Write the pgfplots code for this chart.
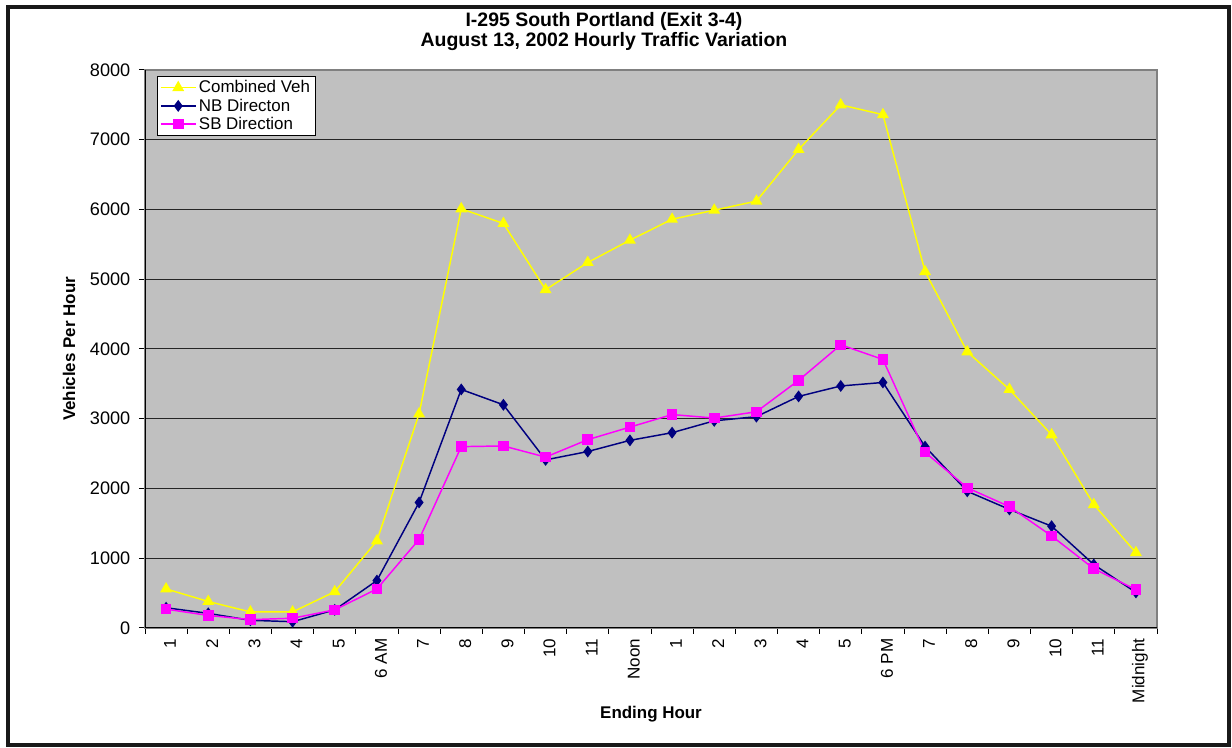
\documentclass[border=0pt]{standalone}
\usepackage{pgfplots}
\pgfplotsset{compat=1.18}
\usepackage{pgfplotstable}
\usepackage{fontspec}
\setmainfont{Liberation Sans}
\definecolor{silverbg}{HTML}{C0C0C0}
\definecolor{cyel}{HTML}{FFFF00}
\definecolor{cnb}{HTML}{000080}
\definecolor{csb}{HTML}{FF00FF}
\pgfplotstableread{
x comb nb sb
1 560 290 270
2 380 210 180
3 230 110 120
4 230 90 140
5 520 260 260
6 1250 680 560
7 3070 1800 1270
8 6010 3420 2600
9 5800 3200 2610
10 4850 2410 2450
11 5240 2530 2700
12 5560 2690 2880
13 5860 2800 3060
14 5990 2970 3010
15 6120 3030 3100
16 6860 3320 3550
17 7500 3470 4060
18 7360 3520 3850
19 5110 2600 2520
20 3960 1960 2010
21 3420 1700 1740
22 2770 1460 1320
23 1770 910 850
24 1080 510 550
}\data
\begin{document}
\begin{tikzpicture}
\useasboundingbox (0,0) rectangle (924pt,561pt);
\draw[line width=3pt,black!90] (5.625pt,1.875pt) rectangle (921.75pt,555.4pt);
\node[align=center,font=\fontsize{14.6}{15}\selectfont\bfseries] at (453pt,537.5pt)
  {I-295 South Portland (Exit 3-4)\\August 13, 2002 Hourly Traffic Variation};
\begin{axis}[
  at={(108.75pt,90pt)}, anchor=south west,
  scale only axis, width=759pt, height=418.5pt,
  xmin=0.5, xmax=24.5, ymin=0, ymax=8000,
  axis background/.style={fill=silverbg},
  axis line style={draw=black!50, line width=0.9pt},
  tick align=outside,
  xtick pos=bottom, ytick pos=left,
  ytick={0,1000,...,8000},
  ymajorgrids, major grid style={black!85, line width=0.75pt},
  major tick length=4.5pt, minor tick length=4.5pt,
  tick style={black, line width=0.75pt},
  xtick={1,...,24},
  xticklabels={1,2,3,4,5,6 AM,7,8,9,10,11,Noon,1,2,3,4,5,6 PM,7,8,9,10,11,Midnight},
  x tick style={draw=none},
  minor xtick={0.5,1.5,...,24.5},
  minor x tick style={draw=black, line width=0.75pt},
  xticklabel style={rotate=90, anchor=east, font=\fontsize{12.8}{15}\selectfont, yshift=-3pt},
  yticklabel style={font=\fontsize{13.6}{15}\selectfont, xshift=-3pt},
  /pgf/number format/assume math mode=true,
  /pgf/number format/1000 sep={},
  scaled y ticks=false,
  xlabel={Ending Hour}, ylabel={Vehicles Per Hour},
  xlabel style={font=\fontsize{12.7}{14}\selectfont\bfseries, at={(axis description cs:0.5,0)}, anchor=center, yshift=-64.5pt},
  ylabel style={font=\fontsize{12.7}{14}\selectfont\bfseries, at={(axis description cs:0,0.5)}, anchor=center, yshift=57pt},
  legend style={at={(0,1)}, anchor=north west, xshift=9pt, yshift=-4.5pt,
    draw=black, fill=white, line width=0.75pt, font=\fontsize{12.7}{14.5}\selectfont,
    inner xsep=2pt, inner ysep=1pt, row sep=-1pt},
  legend cell align=left,
  legend image code/.code={\draw[mark repeat=2,mark phase=2] plot coordinates {(0pt,0pt)(13pt,0pt)(26pt,0pt)};},
]
\addplot[cyel, line width=1.1pt, mark=triangle*, mark size=4.1pt, mark options={fill=cyel, draw=cyel}] table[x=x,y=comb]{\data};
\addlegendentry{Combined Veh}
\addplot[cnb, line width=1.1pt, mark=diamond*, mark size=3.6pt, mark options={fill=cnb, draw=cnb}] table[x=x,y=nb]{\data};
\addlegendentry{NB Directon}
\addplot[csb, line width=1.1pt, mark=square*, mark size=3.4pt, mark options={fill=csb, draw=csb}] table[x=x,y=sb]{\data};
\addlegendentry{SB Direction}
\draw[black, line width=0.9pt] (rel axis cs:0,1) -- (rel axis cs:0,0) -- (rel axis cs:1,0);
\end{axis}
\end{tikzpicture}
\end{document}
